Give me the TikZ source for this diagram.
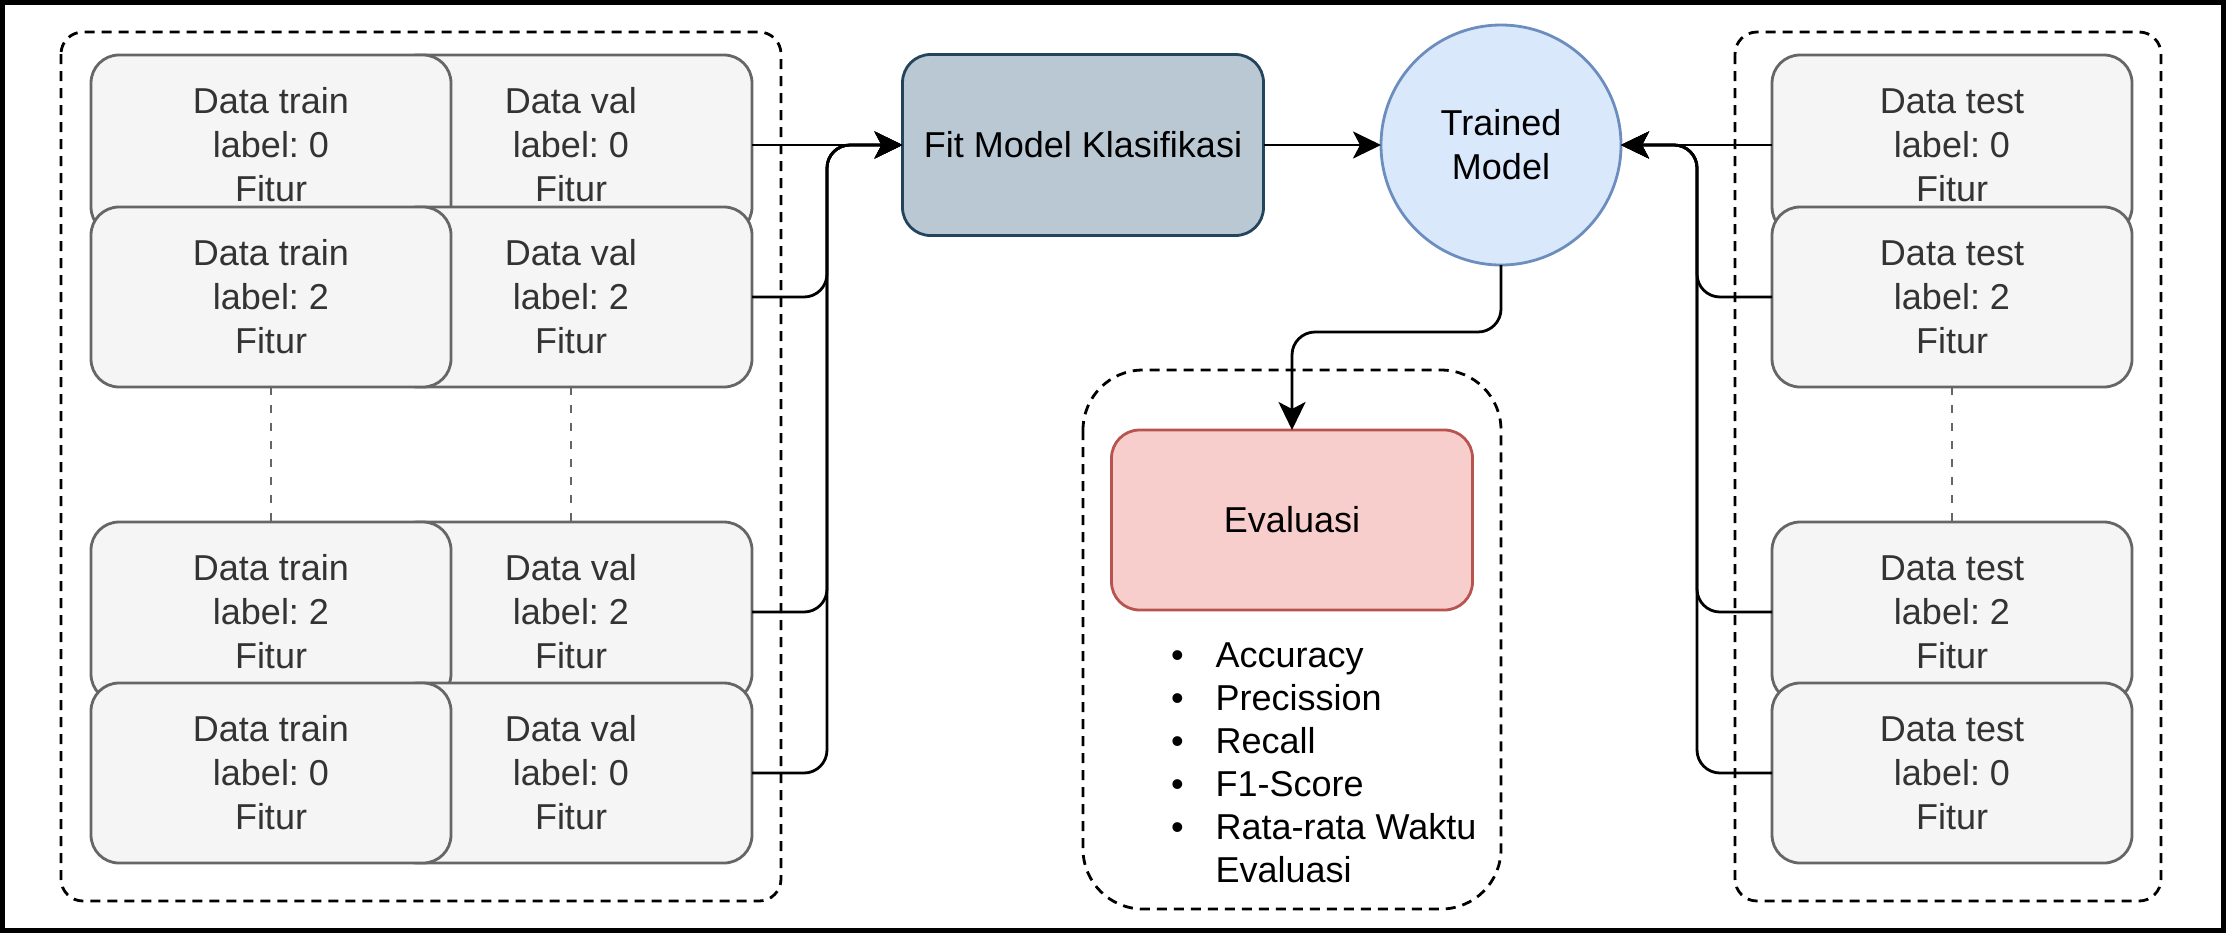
\documentclass[tikz,border=0pt]{standalone}
\usepackage{fontspec}
\setmainfont{Liberation Sans}
\usetikzlibrary{arrows.meta}
\definecolor{boxfill}{HTML}{F5F5F5}
\definecolor{boxdraw}{HTML}{666666}
\definecolor{boxtext}{HTML}{333333}
\definecolor{fitfill}{HTML}{BAC8D3}
\definecolor{fitdraw}{HTML}{23445D}
\definecolor{tmfill}{HTML}{DAE8FC}
\definecolor{tmdraw}{HTML}{6C8EBF}
\definecolor{evfill}{HTML}{F8CECC}
\definecolor{evdraw}{HTML}{B85450}
\frenchspacing
\begin{document}
\begin{tikzpicture}[x=0.5pt,y=-0.5pt,
  every node/.style={inner sep=0pt, outer sep=0pt, font=\fontsize{18pt}{22pt}\selectfont},
  databox/.style={draw=boxdraw, fill=boxfill, text=boxtext, line width=1.4pt,
    rounded corners=14pt, minimum width=180pt, minimum height=90pt, align=center},
  valbox/.style={databox, minimum width=181pt},
  container/.style={draw=black, line width=1.4pt, dash pattern=on 5pt off 3.5pt, rounded corners=11pt},
  graydash/.style={draw=boxdraw, line width=1.4pt, dash pattern=on 4pt off 5pt},
  conn/.style={draw=black, line width=1.4pt, rounded corners=11.5pt,
    -{Stealth[length=14pt, width=13.5pt, inset=3.5pt]}}
]
\useasboundingbox (0,0) rectangle (2226,933);
\draw[line width=2.5pt] (2.5,2.5) rectangle (2223.5,930.5);

% containers
\draw[container] (61,32) rectangle (781,901);
\draw[container] (1735,32) rectangle (2161,901);
\draw[container, rounded corners=30pt] (1083,370) rectangle (1501,909);

% left data boxes
\node[valbox] (val1) at (571,145) {Data val\\label: 0\\Fitur};
\node[databox] (train1) at (271,145) {Data train\\label: 0\\Fitur};
\node[valbox] (val2) at (571,297) {Data val\\label: 2\\Fitur};
\node[databox] (train2) at (271,297) {Data train\\label: 2\\Fitur};
\node[valbox] (val3) at (571,612) {Data val\\label: 2\\Fitur};
\node[databox] (train3) at (271,612) {Data train\\label: 2\\Fitur};
\node[valbox] (val4) at (571,773) {Data val\\label: 0\\Fitur};
\node[databox] (train4) at (271,773) {Data train\\label: 0\\Fitur};

\draw[graydash] (train2.south) -- (train3.north);
\draw[graydash] (val2.south) -- (val3.north);

% right data boxes
\node[databox] (test1) at (1952,145) {Data test\\label: 0\\Fitur};
\node[databox] (test2) at (1952,297) {Data test\\label: 2\\Fitur};
\node[databox] (test3) at (1952,612) {Data test\\label: 2\\Fitur};
\node[databox] (test4) at (1952,773) {Data test\\label: 0\\Fitur};
\draw[graydash] (test2.south) -- (test3.north);

% central nodes
\node[draw=fitdraw, fill=fitfill, line width=1.4pt, rounded corners=14pt,
  minimum width=180.5pt, minimum height=90.5pt] (fit) at (1083,145) {Fit Model Klasifikasi};
\node[circle, draw=tmdraw, fill=tmfill, line width=1.4pt, minimum size=120pt, align=center]
  (tm) at (1501,145) {Trained\\Model};
\node[draw=evdraw, fill=evfill, line width=1.4pt, rounded corners=14pt,
  minimum width=180.5pt, minimum height=90pt] (eval) at (1292,520) {Evaluasi};

\node[anchor=base west] (list) at (1171,667) {\fontsize{18pt}{21.5pt}\selectfont
  \begin{tabular}[t]{@{}l@{\hspace{16pt}}l@{}}
  \textbullet & Accuracy\\
  \textbullet & Precission\\
  \textbullet & Recall\\
  \textbullet & F1-Score\\
  \textbullet & Rata-rata Waktu\\
   & Evaluasi
  \end{tabular}};

% connectors left
\draw[conn] (val1.east) -- (fit.west);
\draw[conn] (val2.east) -- ++(75,0) |- (fit.west);
\draw[conn] (val3.east) -- ++(75,0) |- (fit.west);
\draw[conn] (val4.east) -- ++(75,0) |- (fit.west);

\draw[conn] (fit.east) -- (tm.west);

% connectors right
\draw[conn] (test1.west) -- (tm.east);
\draw[conn] (test2.west) -- ++(-75,0) |- (tm.east);
\draw[conn] (test3.west) -- ++(-75,0) |- (tm.east);
\draw[conn] (test4.west) -- ++(-75,0) |- (tm.east);

\draw[conn] (tm.south) -- ++(0,67) -| (eval.north);
\end{tikzpicture}
\end{document}
